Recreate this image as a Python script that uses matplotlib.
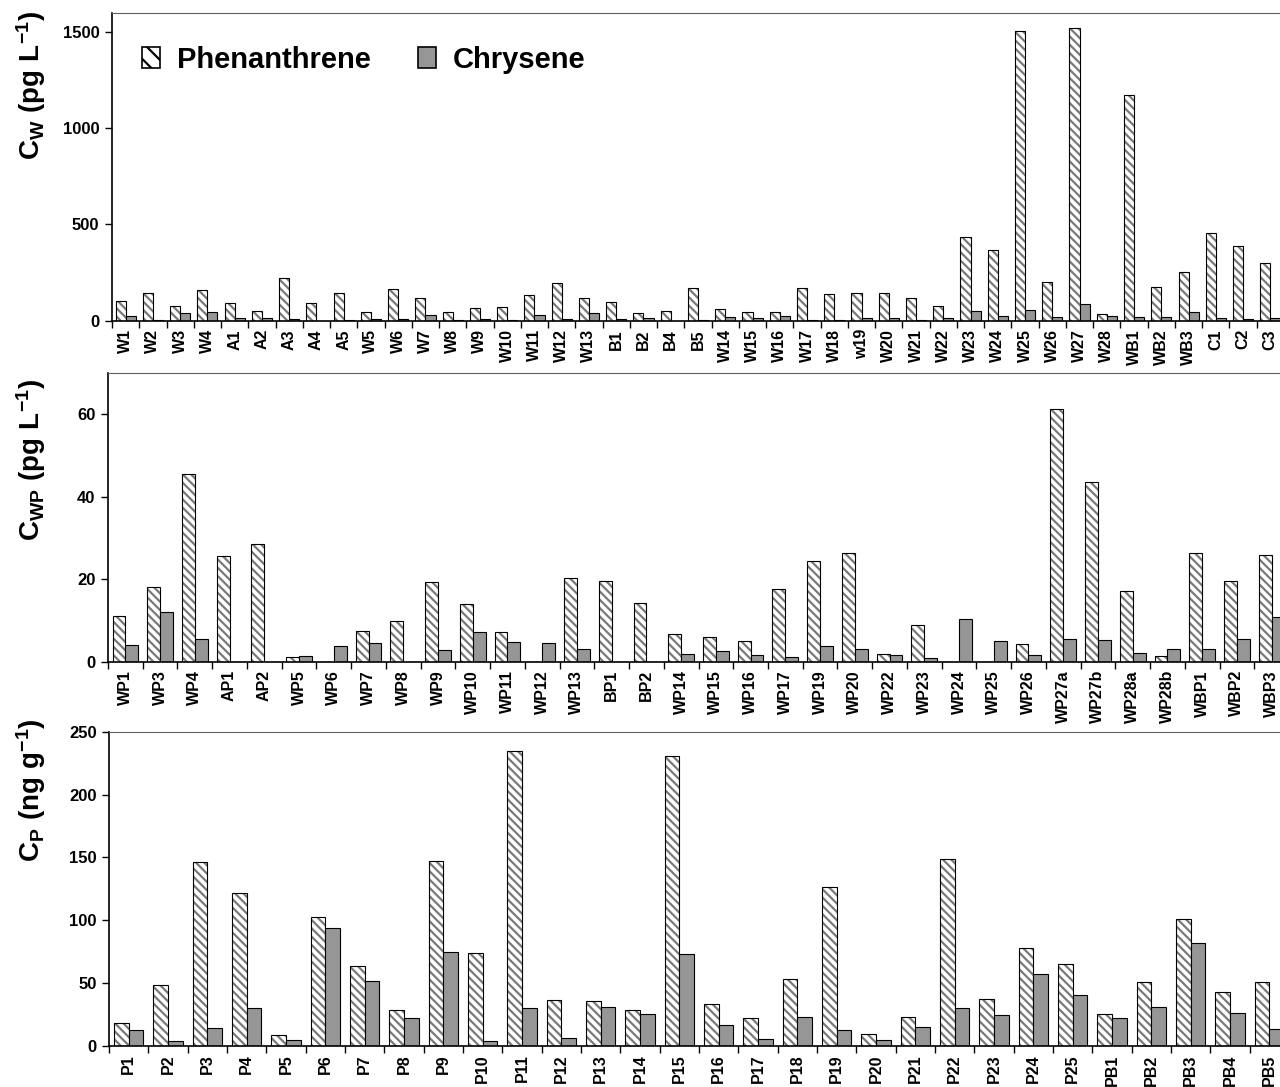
import numpy as np
import matplotlib
matplotlib.use("Agg")
import matplotlib.pyplot as plt
import matplotlib.patches as mpatches

plt.rcParams['font.family'] = ['Liberation Sans', 'DejaVu Sans']
plt.rcParams['font.weight'] = 'bold'
plt.rcParams['mathtext.fontset'] = 'custom'
plt.rcParams['mathtext.rm'] = 'Liberation Sans:bold'
plt.rcParams['mathtext.bf'] = 'Liberation Sans:bold'
plt.rcParams['mathtext.it'] = 'Liberation Sans:bold'
plt.rcParams['hatch.linewidth'] = 1.6

# dissolved water concentrations (pg/L)
w_sites = ["W1", "W2", "W3", "W4", "A1", "A2", "A3", "A4", "A5", "W5", "W6", "W7",
           "W8", "W9", "W10", "W11", "W12", "W13", "B1", "B2", "B4", "B5", "W14", "W15",
           "W16", "W17", "W18", "w19", "W20", "W21", "W22", "W23", "W24", "W25", "W26",
           "W27", "W28", "WB1", "WB2", "WB3", "C1", "C2", "C3"]
w_phen = [103, 143, 77, 158, 91, 51, 221, 91, 143, 45, 164, 117,
          45, 65, 71, 134, 195, 117, 96, 42, 51, 169, 59, 45,
          45, 170, 138, 143, 143, 117, 77, 433, 367, 1507, 200,
          1522, 37, 1174, 174, 251, 454, 386, 301]
w_chry = [26, 4, 38, 47, 12, 12, 10, 0, 3, 10, 10, 30,
          4, 10, 4, 30, 10, 38, 10, 12, 0, 3, 17, 12,
          26, 5, 2, 15, 15, 3, 15, 51, 26, 56, 20,
          87, 26, 20, 20, 45, 15, 7, 15]

# passive sampler water concentrations (pg/L)
wp_sites = ["WP1", "WP3", "WP4", "AP1", "AP2", "WP5", "WP6", "WP7", "WP8", "WP9",
            "WP10", "WP11", "WP12", "WP13", "BP1", "BP2", "WP14", "WP15", "WP16",
            "WP17", "WP19", "WP20", "WP22", "WP23", "WP24", "WP25", "WP26", "WP27a",
            "WP27b", "WP28a", "WP28b", "WBP1", "WBP2", "WBP3"]
wp_phen = [11.2, 18.1, 45.5, 25.7, 28.5, 1.1, 0, 7.5, 9.8, 19.3,
           14.1, 7.1, 0, 20.2, 19.5, 14.3, 6.7, 6.1, 4.9,
           17.6, 24.5, 26.4, 1.8, 8.8, 0, 0, 4.2, 61.2,
           43.6, 17.2, 1.4, 26.4, 19.5, 25.9]
wp_chry = [4.0, 12.0, 5.6, 0, 0, 1.3, 3.7, 4.5, 0, 2.8,
           7.1, 4.7, 4.5, 3.2, 0, 0, 1.8, 2.5, 1.6,
           1.1, 3.7, 3.2, 1.6, 0.8, 10.3, 4.9, 1.6, 5.6,
           5.3, 2.0, 3.0, 3.2, 5.6, 10.8]

# polymer concentrations (ng/g)
p_sites = ["P%d" % i for i in range(1, 26)] + ["PB%d" % i for i in range(1, 6)]
p_phen = [18, 48.3, 146, 121.5, 8.5, 103, 64, 28.6, 147, 73.7,
          234.4, 36.3, 35.5, 29, 230.7, 33.4, 22.5, 53.5, 126.2, 9.3,
          23.3, 148.5, 37.1, 78.2, 65, 25.7, 51.2, 100.8, 43.2, 51.2]
p_chry = [12.5, 4, 14, 30, 4.8, 93.6, 52, 22.5, 75, 4,
          30, 6.4, 31.3, 25.7, 72.9, 16.4, 5.6, 23.3, 12.5, 4.8,
          14.8, 30.2, 25, 57.5, 40.3, 22.5, 31, 82.2, 26.5, 13.3]

W, H = 1280, 1087
GREY = '#969696'
HATCH_C = '#7a7a7a'
bw = 0.37


def px_box(left, top, right, bottom):
    return [left / W, 1 - bottom / H, (right - left) / W, (bottom - top) / H]


def panel(ax, sites, phen, chry, ymax, yticks):
    n = len(sites)
    x = np.arange(n) + 0.5
    ax.bar(x - bw / 2, phen, bw, color='white', edgecolor=HATCH_C,
           hatch='\\\\\\\\', linewidth=0)
    ax.bar(x - bw / 2, phen, bw, fill=False, edgecolor='black', linewidth=0.8)
    ax.bar(x + bw / 2, chry, bw, color=GREY, edgecolor='black', linewidth=0.8)
    ax.set_xlim(0, n)
    ax.set_ylim(0, ymax)
    ax.set_yticks(yticks)
    ax.set_xticks(np.arange(n + 1))
    ax.set_xticklabels([])
    ax.set_xticks(x, minor=True)
    ax.set_xticklabels(sites, minor=True, rotation=90, fontsize=11.5,
                       fontweight='bold')
    ax.tick_params(axis='x', which='major', direction='out', length=5, width=1)
    ax.tick_params(axis='x', which='minor', length=0, pad=6)
    ax.tick_params(axis='y', direction='out', length=5, width=1, labelsize=12, pad=4)
    for lab in ax.get_yticklabels():
        lab.set_fontweight('bold')
    ax.spines['right'].set_visible(False)
    ax.spines['top'].set_color('#606060')
    ax.spines['left'].set_linewidth(1.2)
    ax.spines['bottom'].set_linewidth(1.2)


fig = plt.figure(figsize=(W / 100, H / 100), dpi=100)
ax1 = fig.add_axes(px_box(112, 12.7, 1284, 320.7))
ax2 = fig.add_axes(px_box(108, 373, 1289, 661.7))
ax3 = fig.add_axes(px_box(109, 731.7, 1289, 1046))

panel(ax1, w_sites, w_phen, w_chry, 1600, [0, 500, 1000, 1500])
panel(ax2, wp_sites, wp_phen, wp_chry, 70, [0, 20, 40, 60])
panel(ax3, p_sites, p_phen, p_chry, 250, [0, 50, 100, 150, 200, 250])

fig.text(31 / W, 1 - 86 / H, r'$\mathbf{C_{W}\ (pg\ L^{-1})}$', rotation=90,
         ha='center', va='center', fontsize=20)
fig.text(31 / W, 1 - 460 / H, r'$\mathbf{C_{WP}\ (pg\ L^{-1})}$', rotation=90,
         ha='center', va='center', fontsize=20)
fig.text(31 / W, 1 - 790 / H, r'$\mathbf{C_{P}\ (ng\ g^{-1})}$', rotation=90,
         ha='center', va='center', fontsize=20)

h1 = mpatches.Patch(facecolor='white', edgecolor='black', hatch='\\\\', linewidth=1.2)
h2 = mpatches.Patch(facecolor=GREY, edgecolor='black', linewidth=1.2)
ax1.legend([h1, h2], ['Phenanthrene', 'Chrysene'], ncol=2, frameon=False,
           loc='upper left', bbox_to_anchor=(0.026, 0.893), borderpad=0,
           borderaxespad=0, handlelength=0.6, handleheight=0.7,
           handletextpad=0.6, columnspacing=1.6,
           prop={'size': 21, 'weight': 'bold'})

fig.savefig('out.png', dpi=100)
